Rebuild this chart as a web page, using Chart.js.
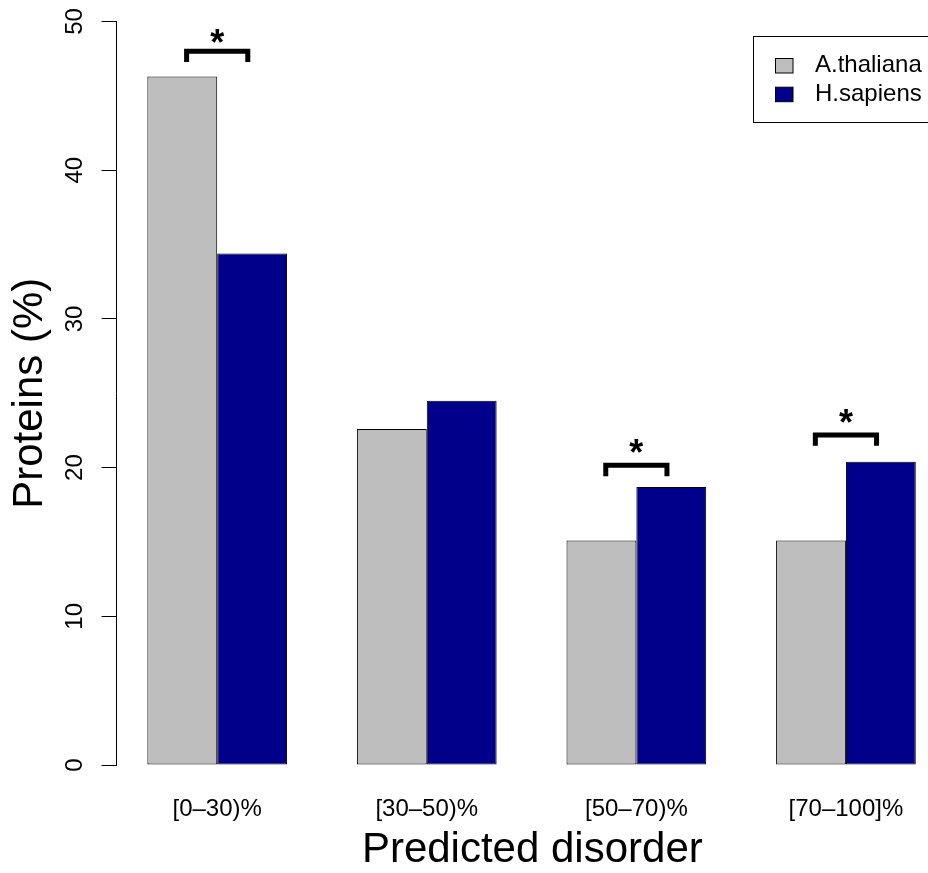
<!DOCTYPE html>
<html>
<head>
<meta charset="utf-8">
<script src="https://cdn.jsdelivr.net/npm/chart.js@4.4.1/dist/chart.umd.min.js"></script>
<style>
html,body{margin:0;padding:0;background:#fff;overflow:hidden;width:928px;height:873px}
canvas{display:block}
</style>
</head>
<body>
<canvas id="c" width="948" height="873"></canvas>
<script>
// ---- data ----
const categories = ['[0–30)%', '[30–50)%', '[50–70)%', '[70–100]%'];
const seriesNames = ['A.thaliana', 'H.sapiens'];
const athaliana = [46.3, 22.6, 15.1, 15.1];
const hsapiens = [34.4, 24.5, 18.7, 20.4];
const yTicks = [0, 10, 20, 30, 40, 50];
// significance markers: bracket level and star level (null = none)
const sigBracket = [48.0, null, 20.15, 22.2];
const sigStar = [48.9, null, 21.35, 23.4];
const sigLabel = '*';

const FONT = '"Liberation Sans", Arial, Helvetica, sans-serif';
Chart.defaults.font.family = FONT;
Chart.defaults.color = '#000';

const sigPlugin = {
  id: 'sig',
  afterDatasetsDraw(chart) {
    const {ctx, scales: {x, y}} = chart;
    ctx.save();
    sigBracket.forEach((lv, i) => {
      if (lv == null) return;
      const xl = x.getPixelForValue(i - 0.146), xr = x.getPixelForValue(i + 0.146);
      const yl = y.getPixelForValue(lv), yb = y.getPixelForValue(lv - 0.73);
      ctx.beginPath();
      ctx.lineWidth = 5; ctx.strokeStyle = '#000'; ctx.lineCap = 'butt'; ctx.lineJoin = 'miter';
      ctx.moveTo(xl, yb); ctx.lineTo(xl, yl); ctx.lineTo(xr, yl); ctx.lineTo(xr, yb);
      ctx.stroke();
      ctx.font = 'bold 36px ' + FONT;
      ctx.fillStyle = '#000'; ctx.textAlign = 'center'; ctx.textBaseline = 'alphabetic';
      ctx.fillText(sigLabel, x.getPixelForValue(i), y.getPixelForValue(sigStar[i]) + 17.5);
    });
    ctx.restore();
  }
};

const boxLegend = {
  id: 'boxLegend',
  afterDraw(chart) {
    const {ctx, chartArea} = chart;
    const top = Math.round(chartArea.top + 14.5) + 0.5;
    const right = chartArea.right - 2;
    const left = 753.5, bottom = top + 86;
    ctx.save();
    ctx.fillStyle = '#fff';
    ctx.fillRect(left, top, right - left, bottom - top);
    ctx.lineWidth = 1; ctx.strokeStyle = '#000';
    ctx.strokeRect(left, top, right - left, bottom - top);
    chart.data.datasets.forEach((ds, i) => {
      const cy = top + 29 + i * 28.7;
      ctx.fillStyle = ds.backgroundColor;
      ctx.fillRect(775.5, cy - 7, 17.5, 14.5);
      ctx.strokeRect(775.5, cy - 7, 17.5, 14.5);
      ctx.fillStyle = '#000';
      ctx.font = '24px ' + FONT;
      ctx.textAlign = 'left'; ctx.textBaseline = 'middle';
      ctx.fillText(ds.label, 815, cy);
    });
    ctx.restore();
  }
};

new Chart(document.getElementById('c'), {
  type: 'bar',
  data: {
    datasets: [
      {label: seriesNames[0], data: athaliana.map((v, i) => ({x: i, y: v})),
       backgroundColor: '#BEBEBE', borderColor: '#000', borderWidth: 1, borderSkipped: false,
       categoryPercentage: 2/3, barPercentage: 1},
      {label: seriesNames[1], data: hsapiens.map((v, i) => ({x: i, y: v})),
       backgroundColor: '#00008B', borderColor: '#000', borderWidth: 1, borderSkipped: false,
       categoryPercentage: 2/3, barPercentage: 1}
    ]
  },
  options: {
    responsive: false,
    animation: false,
    devicePixelRatio: 1,
    layout: {padding: {top: 21.5, left: 0, right: 0, bottom: 0}},
    plugins: {legend: {display: false}, tooltip: {enabled: false}},
    scales: {
      x: {
        type: 'linear', min: -0.48, max: 3.487, bounds: 'data', offset: false,
        afterBuildTicks: ax => { ax.ticks = categories.map((c, i) => ({value: i})); },
        afterFit: ax => { ax.height = 108; },
        grid: {display: false, drawTicks: false},
        border: {display: false},
        ticks: {autoSkip: false, maxRotation: 0, minRotation: 0, padding: 30, color: '#000',
                font: {size: 24}, callback: v => categories[Math.round(v)]},
        title: {display: true, text: 'Predicted disorder', color: '#000',
                font: {size: 42, lineHeight: 1}, padding: {top: 0, bottom: 1.5}}
      },
      y: {
        min: 0, max: 50,
        afterBuildTicks: ax => { ax.ticks = yTicks.map(v => ({value: v})); },
        afterFit: ax => { ax.width = 116.6; },
        grid: {drawOnChartArea: false, drawTicks: true, tickLength: 15, color: '#000', lineWidth: 1},
        border: {display: true, color: '#000', width: 1},
        ticks: {minRotation: 90, maxRotation: 90, crossAlign: 'center', padding: 13, color: '#000',
                font: {size: 24, lineHeight: 0.5}},
        title: {display: true, text: 'Proteins (%)', color: '#000',
                font: {size: 42, lineHeight: 1}, padding: {top: 9.5, bottom: 0}}
      }
    }
  },
  plugins: [sigPlugin, boxLegend]
});
</script>
</body>
</html>
